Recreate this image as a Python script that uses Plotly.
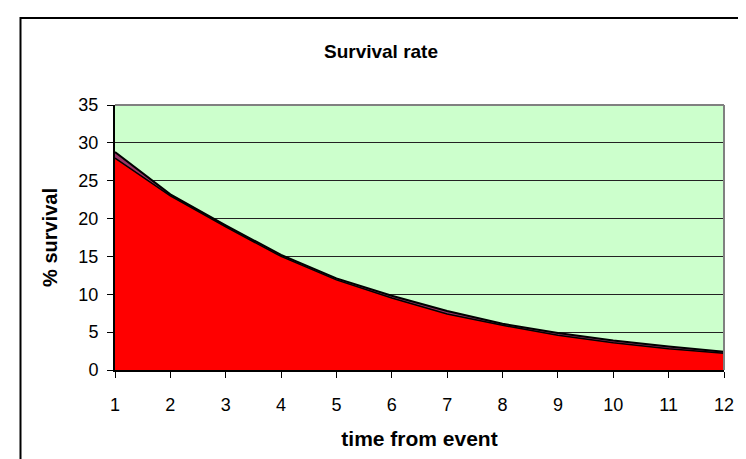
import plotly.graph_objects as go

time_points = [1, 2, 3, 4, 5, 6, 7, 8, 9, 10, 11, 12]
upper_series = [28.8, 23.2, 19.1, 15.2, 12.1, 9.8, 7.8, 6.1, 4.9, 3.9, 3.1, 2.4]
lower_series = [28.0, 23.0, 18.9, 15.0, 11.9, 9.5, 7.4, 5.9, 4.6, 3.6, 2.8, 2.2]
y_ticks = [0, 5, 10, 15, 20, 25, 30, 35]

FONT = "Liberation Sans, Arial, sans-serif"

fig = go.Figure()
fig.add_trace(go.Scatter(
    x=time_points, y=upper_series, mode="lines", fill="tozeroy",
    fillcolor="#993366", line=dict(color="black", width=2), hoverinfo="skip",
    showlegend=False))
fig.add_trace(go.Scatter(
    x=time_points, y=lower_series, mode="lines", fill="tozeroy",
    fillcolor="#FF0000", line=dict(color="black", width=1.5), hoverinfo="skip",
    showlegend=False))

L, R, T, B = 107, 30, 97, 97
W, H = 746, 459
pw, ph = W - L - R, H - T - B

fig.update_layout(
    width=W, height=H,
    margin=dict(l=L, r=R, t=T, b=B, pad=0),
    paper_bgcolor="white", plot_bgcolor="#CCFFCC",
    font=dict(family=FONT, size=18, color="black"),
    title=dict(text="<b>Survival rate</b>", x=0.5, xref="container", xanchor="center",
               y=1 - 43 / H, yanchor="middle", font=dict(size=19, family=FONT)),
    xaxis=dict(range=[1, 12], tickvals=time_points, ticks="outside", ticklen=6,
               tickcolor="black", showline=True, linecolor="black", linewidth=2,
               showgrid=False, zeroline=False, mirror=False, ticklabelstandoff=11,
               title=dict(text="<b>time from event</b>", font=dict(size=21), standoff=18),
               tickfont=dict(size=18)),
    yaxis=dict(range=[0, 35], tickvals=y_ticks, ticks="outside", ticklen=6,
               tickcolor="black", showline=True, linecolor="black", linewidth=2,
               showgrid=True, gridcolor="#222222", gridwidth=1.2, zeroline=False,
               ticklabelstandoff=5,
               title=dict(text="<b>% survival</b>", font=dict(size=20), standoff=15),
               tickfont=dict(size=18)),
    shapes=[
        dict(type="line", xref="paper", yref="paper", x0=0, x1=1, y0=1, y1=1,
             line=dict(color="#808080", width=2)),
        dict(type="line", xref="paper", yref="paper", x0=1, x1=1, y0=0, y1=1,
             line=dict(color="#808080", width=2)),
        dict(type="rect", xref="paper", yref="paper",
             x0=(12.5 - L) / pw, x1=(742 - L) / pw,
             y0=(H - B - 470) / ph, y1=(H - B - 10) / ph,
             line=dict(color="black", width=2), fillcolor="rgba(0,0,0,0)", layer="above"),
    ],
)

fig.write_html("out.html")
